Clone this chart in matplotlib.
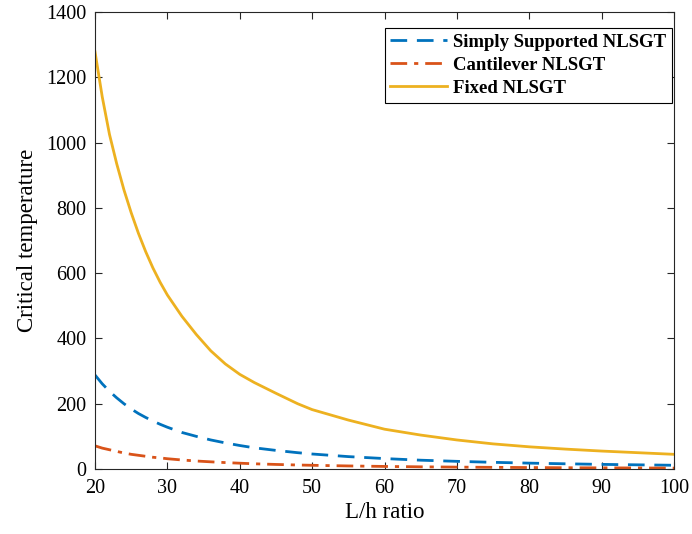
import numpy as np
import matplotlib.pyplot as plt

plt.rcParams['font.family'] = ['Liberation Serif', 'DejaVu Serif']

# 数据
lh_ratio = [20, 21, 22, 23, 24, 25, 26, 27, 28, 29, 30, 32, 34, 36, 38, 40, 42, 45, 48, 50,
            55, 60, 65, 70, 75, 80, 85, 90, 95, 100]
simply_supported = [288, 261, 238, 218, 200, 184, 170, 158, 147, 137, 128, 112, 100, 89, 80, 72,
                    65, 57, 50, 46, 38, 32, 27, 23.5, 20.5, 18, 16, 14.2, 12.8, 11.5]
cantilever = [71, 64, 59, 54, 49, 45, 42, 39, 36, 34, 31.5, 27.7, 24.5, 22, 19.7, 17.8,
              16, 14, 12.3, 11.4, 9.4, 7.9, 6.7, 5.8, 5.1, 4.5, 3.9, 3.5, 3.2, 2.8]
fixed = [1278, 1140, 1025, 935, 855, 785, 722, 666, 616, 572, 533, 468, 412, 362, 322, 290,
         265, 232, 200, 182, 150, 122, 104, 89, 77, 68, 61, 55, 50, 45]

fig = plt.figure(figsize=(6.92, 5.34), dpi=100)
ax = fig.add_axes([0.1373, 0.1217, 0.8367, 0.8558])

ax.plot(lh_ratio, simply_supported, color='#0072BD', lw=2, ls=(0, (6, 3.5)),
        label='Simply Supported NLSGT')
ax.plot(lh_ratio, cantilever, color='#D95319', lw=2, ls=(0, (6, 2.5, 1.5, 2.5)),
        label='Cantilever NLSGT')
ax.plot(lh_ratio, fixed, color='#EDB120', lw=2, ls='-', label='Fixed NLSGT')

ax.set_xlim(20, 100)
ax.set_ylim(0, 1400)
ax.set_xticks(np.arange(20, 101, 10))
ax.set_yticks(np.arange(0, 1401, 200))
ax.tick_params(direction='in', top=True, right=True, length=5, width=0.8,
               labelsize=14.5, color='#262626')
ax.tick_params(axis='y', pad=6)
ax.tick_params(axis='x', pad=7)
for s in ax.spines.values():
    s.set_color('#262626')
    s.set_linewidth(0.8)

ax.set_xlabel('L/h ratio', fontsize=16.5, labelpad=3)
ax.set_ylabel('Critical temperature', fontsize=16.5, labelpad=6)

leg = ax.legend(loc='upper right', bbox_to_anchor=(0.9965, 0.965),
                prop={'weight': 'bold', 'size': 13.5},
                fancybox=False, edgecolor='black', framealpha=1,
                handlelength=3.0, handletextpad=0.35, labelspacing=0.32,
                borderpad=0.3, borderaxespad=0)
leg.get_frame().set_linewidth(0.8)

fig.savefig('out.png', dpi=100)
